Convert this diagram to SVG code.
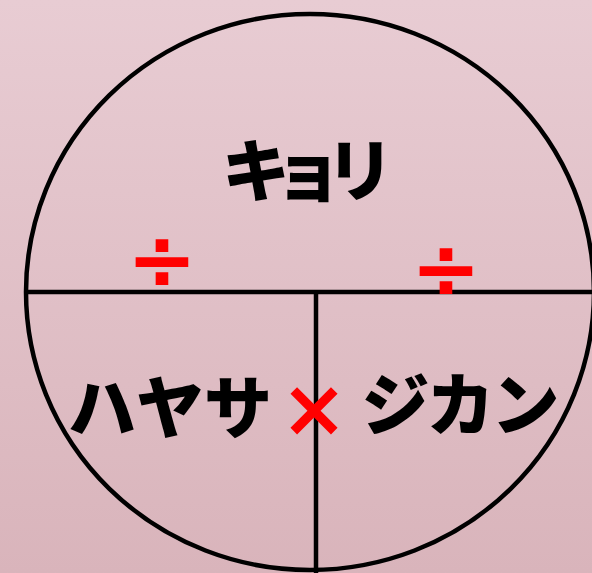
<svg xmlns="http://www.w3.org/2000/svg" width="592" height="573" viewBox="0 0 592 573">
<defs>
<linearGradient id="bg" x1="0" y1="0" x2="0" y2="1">
<stop offset="0" stop-color="#e8ccd3"/>
<stop offset="1" stop-color="#d9b4bb"/>
</linearGradient>
<style>
.ln{stroke:#000;stroke-width:4.5;fill:none}
.lbl{font-family:"Noto Sans CJK JP","Noto Sans",sans-serif;font-weight:900;font-size:68px;fill:#000;text-anchor:middle}
.op{font-family:"DejaVu Sans",sans-serif;font-weight:bold;fill:#ff0000;text-anchor:middle}
</style>
</defs>
<rect width="592" height="573" fill="url(#bg)"/>
<g id="connectors">
<ellipse class="ln" cx="310" cy="292" rx="284" ry="278"/>
<line class="ln" x1="25" y1="292" x2="592" y2="292"/>
<line class="ln" x1="316" y1="292" x2="316" y2="573"/>
</g>
<g id="kyori"><text class="lbl" x="300" y="196" letter-spacing="-16">キョリ</text></g>
<g id="hayasa"><text class="lbl" x="170" y="433">ハヤサ</text></g>
<g id="jikan"><text class="lbl" x="459" y="430" letter-spacing="-3">ジカン</text></g>
<g id="div-left"><text class="op" x="162" y="289" font-size="84">÷</text></g>
<g id="div-right"><text class="op" x="446" y="298" font-size="84">÷</text></g>
<g id="times"><text class="op" x="314" y="436" font-size="80">×</text></g>
</svg>
